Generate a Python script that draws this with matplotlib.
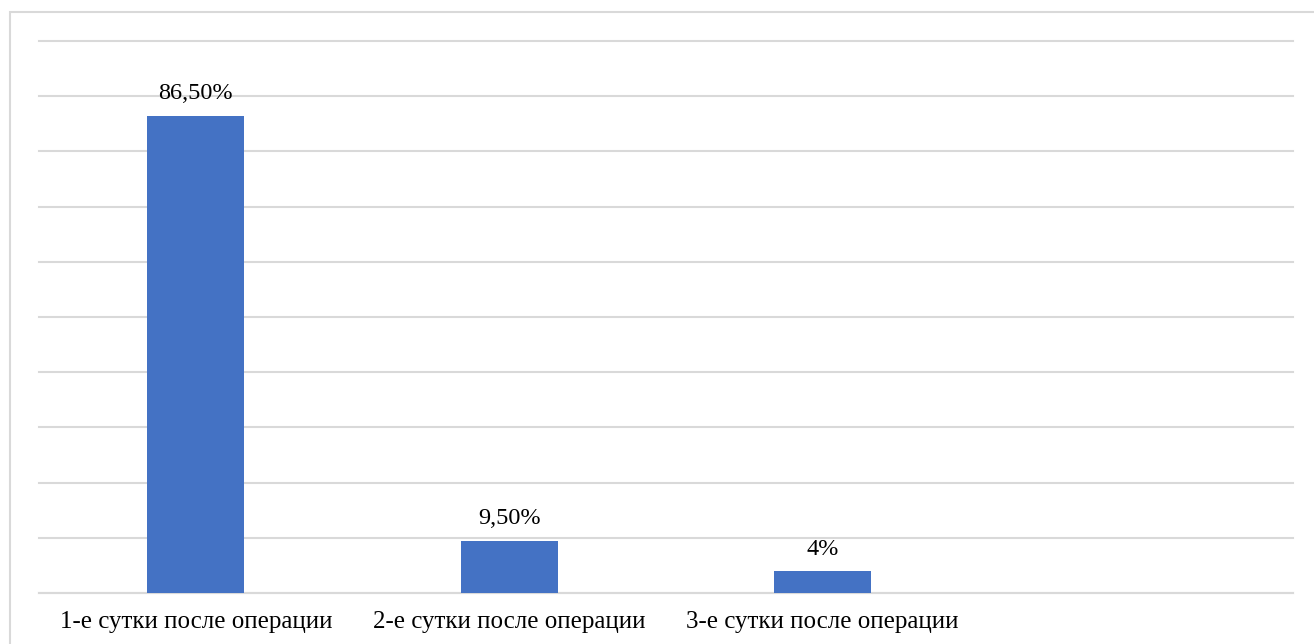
import matplotlib.pyplot as plt
from matplotlib.patches import Rectangle

plt.rcParams['font.family'] = ['Liberation Serif', 'DejaVu Serif']

categories = ['1-е сутки после операции', '2-е сутки после операции', '3-е сутки после операции', '']
values = [86.5, 9.5, 4.0]
labels = ['86,50%', '9,50%', '4%']

fig = plt.figure(figsize=(13.14, 6.44), dpi=100)
ax = fig.add_axes([39 / 1314, 51 / 644, 1254 / 1314, 552 / 644])

grid_color = '#d9d9d9'
bars = ax.bar(range(len(values)), values, width=0.31, color='#4472C4', zorder=3)

for bar, text in zip(bars, labels):
    ax.annotate(text, (bar.get_x() + bar.get_width() / 2, bar.get_height()),
                xytext=(0, 8), textcoords='offset points',
                ha='center', va='bottom', fontsize=17.5, color='#000000')

ax.set_xlim(-0.5, 3.5)
ax.set_ylim(0, 100)
ax.set_yticks(range(0, 101, 10))
ax.yaxis.grid(True, color=grid_color, linewidth=1.5)
for line in ax.get_ygridlines():
    line.set_clip_on(False)
ax.tick_params(axis='y', left=False, labelleft=False)
ax.set_xticks(range(len(categories)))
ax.set_xticklabels(categories, fontsize=18)
ax.tick_params(axis='x', length=0, pad=13)
for side in ['top', 'right', 'left']:
    ax.spines[side].set_visible(False)
ax.spines['bottom'].set_color(grid_color)
ax.spines['bottom'].set_linewidth(1.5)

# рамка вокруг диаграммы
fig.patches.append(Rectangle((10 / 1314, -0.1), 1.2, (644 - 12) / 644 + 0.1,
                             transform=fig.transFigure, fill=False,
                             edgecolor=grid_color, linewidth=1.5))

fig.savefig('out.png', dpi=100)
